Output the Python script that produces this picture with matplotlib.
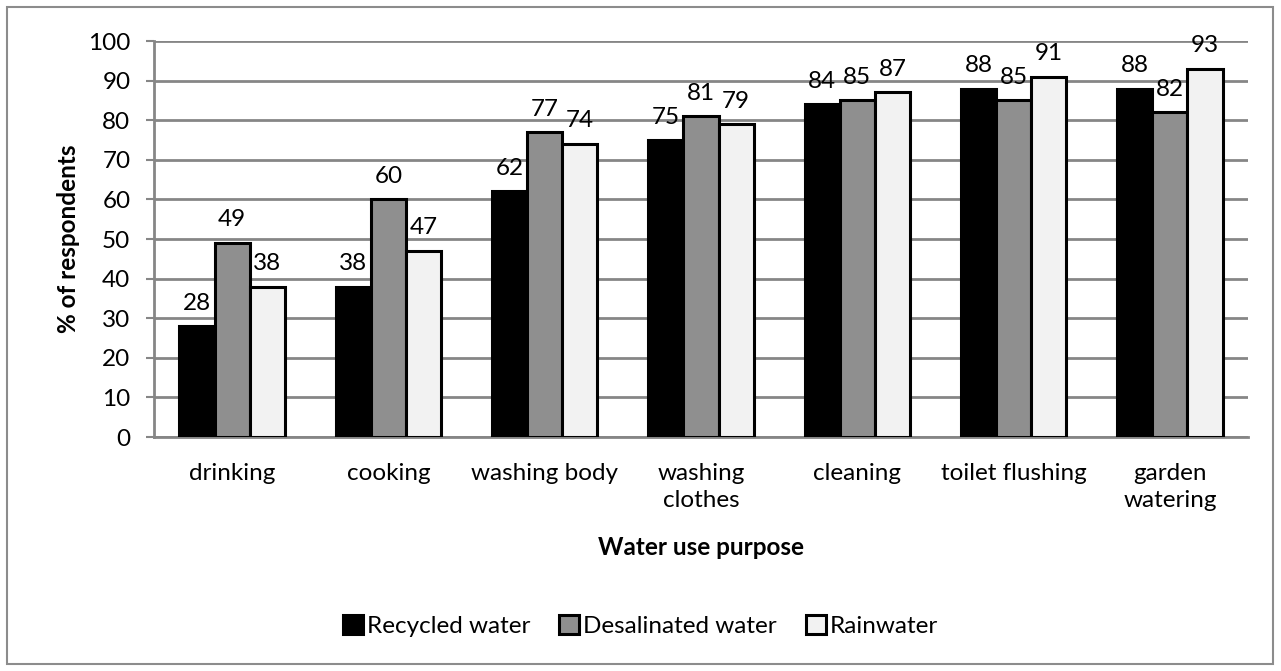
import numpy as np
import matplotlib
matplotlib.use("Agg")
import matplotlib.pyplot as plt
from matplotlib.patches import Rectangle

categories = ["drinking", "cooking", "washing body", "washing\nclothes",
              "cleaning", "toilet flushing", "garden\nwatering"]
recycled = [28, 38, 62, 75, 84, 88, 88]
desalinated = [49, 60, 77, 81, 85, 85, 82]
rainwater = [38, 47, 74, 79, 87, 91, 93]
series_names = ["Recycled water", "Desalinated water", "Rainwater"]

plt.rcParams['font.family'] = ['Lato', 'DejaVu Sans']
FS = 17.5

fig = plt.figure(figsize=(12.81, 6.71), dpi=100)
fig.patches.append(Rectangle((7 / 1281, 7 / 671), 1266 / 1281, 657 / 671,
                             transform=fig.transFigure, fill=False,
                             edgecolor='#8c8c8c', linewidth=1.5))
ax = fig.add_axes([154 / 1281, 1 - 437 / 671, 1094 / 1281, 396 / 671])

x = np.arange(len(categories))
w = 0.225
colors = ['#000000', '#8f8f8f', '#f2f2f2']
for i, (vals, col, name) in enumerate(zip([recycled, desalinated, rainwater], colors, series_names)):
    bars = ax.bar(x + (i - 1) * w, vals, w, color=col, edgecolor='black',
                  linewidth=2.2, label=name, zorder=3)
    for b, v in zip(bars, vals):
        ax.annotate(str(v), (b.get_x() + b.get_width() / 2, v), xytext=(0, 9),
                    textcoords='offset points', ha='center', va='bottom', fontsize=FS)

ax.set_xlim(-0.5, len(categories) - 0.5)
ax.set_ylim(0, 100)
ax.set_yticks(range(0, 101, 10))
ax.set_xticks(x)
ax.set_xticklabels(categories, fontsize=FS, linespacing=1.35)
ax.tick_params(axis='x', length=0, pad=19)
ax.tick_params(axis='y', length=6, width=1.5, color='#868686', labelsize=FS, pad=11)
ax.yaxis.grid(True, color='#868686', linewidth=2, zorder=0)
ax.set_axisbelow(True)
for s in ['top', 'right']:
    ax.spines[s].set_visible(False)
for s in ['left', 'bottom']:
    ax.spines[s].set_color('#868686')
    ax.spines[s].set_linewidth(2)

ax.set_ylabel('% of respondents', fontsize=FS, fontweight='bold', labelpad=6)
ax.set_xlabel('Water use purpose', fontsize=FS, fontweight='bold', labelpad=18)

ax.legend(loc='center', bbox_to_anchor=(0.5, (671 - 626) / 671), bbox_transform=fig.transFigure,
          ncol=3, frameon=False, fontsize=FS, handlelength=0.82, handleheight=0.82,
          handletextpad=0.15, columnspacing=1.2)

fig.savefig('out.png', dpi=100)
